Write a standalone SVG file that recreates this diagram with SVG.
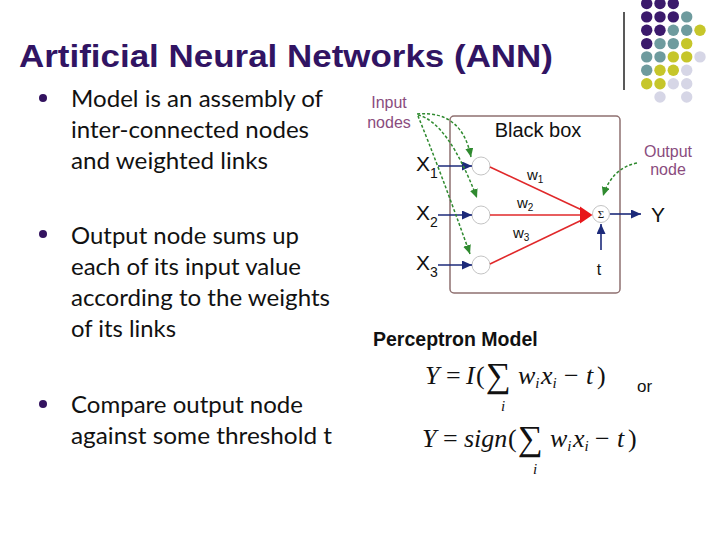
<svg xmlns="http://www.w3.org/2000/svg" width="720" height="540" viewBox="0 0 720 540">
<style>
.title{font-family:"Liberation Sans",Arial,sans-serif;font-weight:bold;font-size:31px;fill:#311463}
.bul{font-family:Lato,"Open Sans",sans-serif;font-size:22.5px;fill:#111}
.bdot{fill:#33135f}
.lbl{font-family:"Liberation Sans",Arial,sans-serif;fill:#111}
.mauve{font-family:"Liberation Sans",Arial,sans-serif;font-size:16px;fill:#8a4c7e;text-anchor:middle}
.math{font-family:"Liberation Serif","Times New Roman",serif;font-size:26px;fill:#111}
.it{font-style:italic}
.pu{fill:#3b1a6c}.te{fill:#6e9b9e}.ye{fill:#c6c62a}.la{fill:#d6d6e6}
.node{fill:#fff;stroke:#c4c4c4;stroke-width:1}
.navy{stroke:#1c2a7a;stroke-width:1.6;fill:none}
.red{stroke:#e0282a;stroke-width:1.6;fill:none}
.green{stroke:#2f8a2f;stroke-width:1.5;fill:none;stroke-dasharray:3 2}
</style>
<defs>
<marker id="mNavy" markerUnits="userSpaceOnUse" markerWidth="11" markerHeight="10" refX="10" refY="4.5" orient="auto"><path d="M0,0 L10,4.5 L0,9 Z" fill="#1c2a7a"/></marker>
<marker id="mGreen" markerUnits="userSpaceOnUse" markerWidth="10" markerHeight="10" refX="9" refY="4" orient="auto"><path d="M0,0 L9,4 L0,8 Z" fill="#2f8a2f"/></marker>
</defs>

<g id="decor">
<line x1="624" y1="12" x2="624" y2="90" stroke="#222" stroke-width="1.5"/>
<g id="dots">
<circle class="pu" cx="646.7" cy="3.5" r="5.7"/><circle class="pu" cx="660" cy="3.5" r="5.7"/><circle class="pu" cx="673.3" cy="3.5" r="5.7"/>
<circle class="pu" cx="646.7" cy="16.9" r="5.7"/><circle class="pu" cx="660" cy="16.9" r="5.7"/><circle class="pu" cx="673.3" cy="16.9" r="5.7"/><circle class="te" cx="686.7" cy="16.9" r="5.7"/>
<circle class="pu" cx="646.7" cy="30.2" r="5.7"/><circle class="pu" cx="660" cy="30.2" r="5.7"/><circle class="te" cx="673.3" cy="30.2" r="5.7"/><circle class="te" cx="686.7" cy="30.2" r="5.7"/><circle class="ye" cx="700" cy="30.2" r="5.7"/>
<circle class="pu" cx="646.7" cy="43.6" r="5.7"/><circle class="te" cx="660" cy="43.6" r="5.7"/><circle class="te" cx="673.3" cy="43.6" r="5.7"/><circle class="ye" cx="686.7" cy="43.6" r="5.7"/>
<circle class="te" cx="646.7" cy="56.9" r="5.7"/><circle class="te" cx="660" cy="56.9" r="5.7"/><circle class="ye" cx="673.3" cy="56.9" r="5.7"/><circle class="ye" cx="686.7" cy="56.9" r="5.7"/><circle class="la" cx="700" cy="56.9" r="5.7"/>
<circle class="te" cx="646.7" cy="70.3" r="5.7"/><circle class="ye" cx="660" cy="70.3" r="5.7"/><circle class="ye" cx="673.3" cy="70.3" r="5.7"/><circle class="la" cx="686.7" cy="70.3" r="5.7"/>
<circle class="ye" cx="646.7" cy="83.7" r="5.7"/><circle class="ye" cx="660" cy="83.7" r="5.7"/><circle class="la" cx="673.3" cy="83.7" r="5.7"/><circle class="la" cx="686.7" cy="83.7" r="5.7"/>
<circle class="la" cx="660" cy="97" r="5.7"/><circle class="la" cx="686.7" cy="97" r="5.7"/>
</g>
</g>

<g id="title">
<text class="title" x="19" y="67" textLength="534" lengthAdjust="spacingAndGlyphs">Artificial Neural Networks (ANN)</text>
</g>

<g id="bullets">
<circle class="bdot" cx="43" cy="98" r="4"/>
<text class="bul" x="71" y="107" textLength="252" lengthAdjust="spacingAndGlyphs">Model is an assembly of</text>
<text class="bul" x="71" y="138" textLength="238" lengthAdjust="spacingAndGlyphs">inter-connected nodes</text>
<text class="bul" x="71" y="169" textLength="197" lengthAdjust="spacingAndGlyphs">and weighted links</text>
<circle class="bdot" cx="43" cy="234" r="4"/>
<text class="bul" x="71" y="244" textLength="228" lengthAdjust="spacingAndGlyphs">Output node sums up</text>
<text class="bul" x="71" y="275" textLength="230" lengthAdjust="spacingAndGlyphs">each of its input value</text>
<text class="bul" x="71" y="306" textLength="259" lengthAdjust="spacingAndGlyphs">according to the weights</text>
<text class="bul" x="71" y="337" textLength="105" lengthAdjust="spacingAndGlyphs">of its links</text>
<circle class="bdot" cx="43" cy="404" r="4"/>
<text class="bul" x="71" y="413" textLength="232" lengthAdjust="spacingAndGlyphs">Compare output node</text>
<text class="bul" x="71" y="444" textLength="261" lengthAdjust="spacingAndGlyphs">against some threshold t</text>
</g>

<g id="blackbox">
<rect x="450" y="116" width="170" height="177" rx="4" fill="none" stroke="#8f7070" stroke-width="1.5"/>
<text class="lbl" x="538" y="137" font-size="20" text-anchor="middle">Black box</text>
</g>

<g id="input-label">
<text class="mauve" x="389" y="108">Input</text>
<text class="mauve" x="389" y="128">nodes</text>
</g>
<g id="output-label">
<text class="mauve" x="668" y="157">Output</text>
<text class="mauve" x="668" y="175">node</text>
</g>

<g id="x1"><text class="lbl" x="416" y="171" font-size="21">X<tspan font-size="14" dy="7">1</tspan></text></g>
<g id="x2"><text class="lbl" x="416" y="220" font-size="21">X<tspan font-size="14" dy="7">2</tspan></text></g>
<g id="x3"><text class="lbl" x="416" y="270" font-size="21">X<tspan font-size="14" dy="7">3</tspan></text></g>

<g id="in1"><circle class="node" cx="481" cy="166" r="9"/></g>
<g id="in2"><circle class="node" cx="481" cy="215" r="9"/></g>
<g id="in3"><circle class="node" cx="481" cy="265" r="9"/></g>
<g id="sum"><circle class="node" cx="601" cy="214" r="8.5"/><text x="601" y="218" font-family="'Liberation Serif',serif" font-size="11" text-anchor="middle" fill="#111">Σ</text></g>

<g id="y-label"><text class="lbl" x="651" y="222" font-size="21">Y</text></g>
<g id="t-label"><text class="lbl" x="599" y="275" font-size="16" text-anchor="middle">t</text></g>

<g id="weights">
<text class="lbl" x="527" y="180" font-size="15">w<tspan font-size="10" dy="3">1</tspan></text>
<text class="lbl" x="517" y="208" font-size="15">w<tspan font-size="10" dy="3">2</tspan></text>
<text class="lbl" x="513" y="238" font-size="15">w<tspan font-size="10" dy="3">3</tspan></text>
</g>

<g id="connectors">
<line class="navy" x1="438" y1="166" x2="472" y2="166" marker-end="url(#mNavy)"/>
<line class="navy" x1="438" y1="215" x2="472" y2="215" marker-end="url(#mNavy)"/>
<line class="navy" x1="438" y1="265" x2="472" y2="265" marker-end="url(#mNavy)"/>
<line class="red" x1="490" y1="167" x2="584" y2="211"/>
<line class="red" x1="490" y1="215" x2="584" y2="215"/>
<line class="red" x1="490" y1="264" x2="584" y2="219"/>
<polygon points="580,206.5 592.5,215 580,223.5" fill="#e8161a"/>
<line class="navy" x1="610" y1="214" x2="641" y2="214" marker-end="url(#mNavy)"/>
<line class="navy" x1="601" y1="250" x2="601" y2="224" marker-end="url(#mNavy)"/>
<path class="green" d="M417,114 Q462,110 471,157" marker-end="url(#mGreen)"/>
<path class="green" d="M418,115 Q448,122 477,198" marker-end="url(#mGreen)"/>
<path class="green" d="M418,116 Q440,170 470,254" marker-end="url(#mGreen)"/>
<path class="green" d="M637,163 Q612,168 603,196" marker-end="url(#mGreen)"/>
</g>

<g id="perceptron">
<text class="lbl" x="373" y="346" font-size="19.5" font-weight="bold">Perceptron Model</text>
</g>

<g id="formula1" class="math">
<text class="it" x="425" y="384">Y</text>
<text x="446" y="384">=</text>
<text class="it" x="466" y="384">I</text>
<text x="476" y="384">(</text>
<text x="486" y="387" font-size="35">∑</text>
<text class="it" x="501" y="411" font-size="15">i</text>
<text class="it" x="518" y="384">w<tspan font-size="15" dy="4">i</tspan></text>
<text class="it" x="541" y="384">x<tspan font-size="15" dy="4">i</tspan></text>
<text x="564" y="384">−</text>
<text class="it" x="586" y="384">t</text>
<text x="597" y="384">)</text>
</g>
<g id="or"><text class="lbl" x="637" y="392" font-size="17">or</text></g>
<g id="formula2" class="math">
<text class="it" x="422" y="447">Y</text>
<text x="443" y="447">=</text>
<text class="it" x="464" y="447">sign</text>
<text x="508" y="447">(</text>
<text x="518" y="450" font-size="35">∑</text>
<text class="it" x="533" y="474" font-size="15">i</text>
<text class="it" x="550" y="447">w<tspan font-size="15" dy="4">i</tspan></text>
<text class="it" x="573" y="447">x<tspan font-size="15" dy="4">i</tspan></text>
<text x="595" y="447">−</text>
<text class="it" x="617" y="447">t</text>
<text x="628" y="447">)</text>
</g>
</svg>
